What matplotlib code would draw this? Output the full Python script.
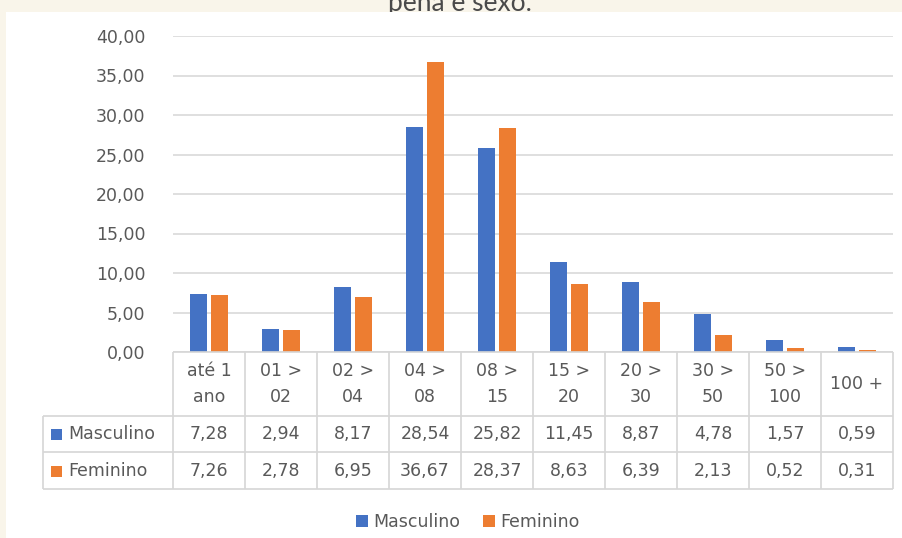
import matplotlib
matplotlib.use("Agg")
import matplotlib.pyplot as plt
from matplotlib.patches import Rectangle, Patch

categories = ["até 1\nano", "01 >\n02", "02 >\n04", "04 >\n08", "08 >\n15",
              "15 >\n20", "20 >\n30", "30 >\n50", "50 >\n100", "100 +"]
masculino = [7.28, 2.94, 8.17, 28.54, 25.82, 11.45, 8.87, 4.78, 1.57, 0.59]
feminino = [7.26, 2.78, 6.95, 36.67, 28.37, 8.63, 6.39, 2.13, 0.52, 0.31]
series_names = ["Masculino", "Feminino"]
y_ticks = [0, 5, 10, 15, 20, 25, 30, 35, 40]
title_text = "pena e sexo."

BLUE = "#4472C4"
ORANGE = "#ED7D31"
GRID = "#D9D9D9"
TXT = "#595959"
CREAM = "#F9F5EA"
FONT = "DejaVu Sans"
FS = 12.5

W, H = 902, 538
fig = plt.figure(figsize=(W / 100, H / 100), dpi=100)
fig.patch.set_facecolor("white")
top_strip = Rectangle((0, 1 - 12 / H), 1, 12 / H, transform=fig.transFigure,
                      facecolor=CREAM, edgecolor="none", zorder=-5)
left_strip = Rectangle((0, 0), 6 / W, 1, transform=fig.transFigure,
                       facecolor=CREAM, edgecolor="none", zorder=-5)
fig.patches.extend([top_strip, left_strip])
title = fig.text(460 / W, 1 - 10.5 / H, title_text, ha="center", va="baseline",
                 fontsize=19, color="#4a4a4a", family="Lato")
title.set_clip_path(Rectangle((0, 1 - 12 / H), 1, 12 / H, transform=fig.transFigure))
title.set_clip_on(True)

def fx(px):
    return px / W

def fy(py):
    return 1 - py / H

left_px, right_px = 173, 893
ax = fig.add_axes([fx(left_px), fy(352), fx(right_px) - fx(left_px), fy(36) - fy(352)])
ax.set_facecolor("none")
x = list(range(len(categories)))
bw = 0.235
ax.bar([i - 0.14 for i in x], masculino, width=bw, color=BLUE, zorder=3)
ax.bar([i + 0.14 for i in x], feminino, width=bw, color=ORANGE, zorder=3)
ax.set_xlim(-0.5, len(categories) - 0.5)
ax.set_ylim(0, 40)
ax.set_yticks(y_ticks)
ax.set_yticklabels([f"{t:.2f}".replace(".", ",") for t in y_ticks],
                   fontsize=FS, color=TXT, family=FONT)
ax.tick_params(axis="y", length=0, pad=20)
ax.set_xticks([])
ax.yaxis.grid(True, color=GRID, linewidth=1.2, zorder=0)
for s in ax.spines.values():
    s.set_visible(False)

# data table
tab = fig.add_axes([fx(left_px), fy(489), fx(right_px) - fx(left_px), fy(352) - fy(489)])
tab.set_xlim(-0.5, len(categories) - 0.5)
tab.set_ylim(137, 0)
tab.axis("off")
n = len(categories)
lab_left = -0.5 - (left_px - 43) / 72.0
lc = "#D6D6D6"
lw = 1.2
kw = dict(color=lc, linewidth=lw, clip_on=False, solid_capstyle="butt")
tab.plot([-0.5, n - 0.5], [0, 0], **kw)
for yy in (64, 100, 137):
    tab.plot([lab_left, n - 0.5], [yy, yy], **kw)
for k in range(n + 1):
    tab.plot([k - 0.5, k - 0.5], [0, 137], **kw)
tab.plot([lab_left, lab_left], [64, 137], **kw)

for i, c in enumerate(categories):
    tab.text(i, 32, c, ha="center", va="center", fontsize=FS, color=TXT,
             family=FONT, linespacing=1.6, clip_on=False)
rows = [(series_names[0], masculino, BLUE, 82), (series_names[1], feminino, ORANGE, 118.5)]
for name, vals, col, yc in rows:
    for i, v in enumerate(vals):
        tab.text(i, yc, f"{v:.2f}".replace(".", ","), ha="center", va="center",
                 fontsize=FS, color=TXT, family=FONT, clip_on=False)
    sq_x = -0.5 - (left_px - 51) / 72.0
    tab.add_patch(Rectangle((sq_x, yc - 5), 11 / 72.0, 11, facecolor=col,
                            edgecolor="none", clip_on=False))
    tab.text(-0.5 - (left_px - 68) / 72.0, yc, name, ha="left", va="center",
             fontsize=FS, color=TXT, family=FONT, clip_on=False)

handles = [Patch(facecolor=BLUE, edgecolor="none"), Patch(facecolor=ORANGE, edgecolor="none")]
leg = fig.legend(handles, series_names, loc="center", bbox_to_anchor=(fx(468), fy(522)),
                 ncol=2, frameon=False, handlelength=0.7, handleheight=0.7,
                 handletextpad=0.3, columnspacing=1.3,
                 prop={"family": FONT, "size": FS})
for t in leg.get_texts():
    t.set_color(TXT)

fig.savefig("out.png", dpi=100, facecolor=fig.get_facecolor())
